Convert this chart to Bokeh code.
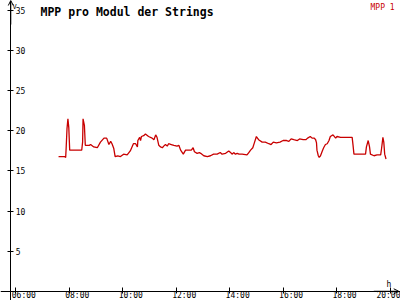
from bokeh.plotting import figure
from bokeh.models import (Range1d, LinearAxis, FixedTicker, Label, Arrow, OpenHead)
from bokeh.embed import file_html
from bokeh.resources import INLINE

# ---- data ----
times = ["07:36", "07:49", "07:52", "07:53", "07:55", "07:57", "07:59", "08:01", "08:28", "08:30",
         "08:31", "08:34", "08:36", "08:45", "08:48", "08:55", "09:03", "09:10", "09:18", "09:24",
         "09:29", "09:33", "09:36", "09:40", "09:43", "09:49", "09:55", "10:02", "10:10", "10:17",
         "10:24", "10:29", "10:33", "10:34", "10:38", "10:40", "10:42", "10:47", "10:51", "10:58",
         "11:06", "11:10", "11:14", "11:17", "11:21", "11:25", "11:29", "11:32", "11:36", "11:40",
         "11:43", "11:49", "11:55", "12:02", "12:06", "12:10", "12:16", "12:21", "12:28", "12:34",
         "12:38", "12:41", "12:47", "12:52", "12:55", "13:02", "13:10", "13:17", "13:24", "13:32",
         "13:39", "13:43", "13:51", "13:58", "14:02", "14:06", "14:09", "14:13", "14:17", "14:21",
         "14:28", "14:39", "14:43", "14:47", "14:52", "14:56", "15:00", "15:05", "15:13", "15:20",
         "15:28", "15:33", "15:38", "15:45", "15:53", "16:00", "16:08", "16:13", "16:18", "16:24",
         "16:32", "16:37", "16:45", "16:51", "16:55", "17:01", "17:05", "17:10", "17:13", "17:15",
         "17:16", "17:19", "17:21", "17:24", "17:28", "17:31", "17:35", "17:39", "17:43", "17:46",
         "17:52", "17:58", "18:01", "18:09", "18:35", "18:37", "18:39", "19:05", "19:07", "19:11",
         "19:14", "19:16", "19:24", "19:31", "19:39", "19:41", "19:44", "19:46", "19:48", "19:51"]
mpp1 = [16.8, 16.8, 16.7, 17.8, 20.3, 21.5, 20.4, 17.6, 17.6, 18.6,
        21.5, 20.7, 18.2, 18.2, 18.3, 18.0, 17.9, 18.6, 19.1, 19.1,
        18.3, 18.7, 18.4, 17.8, 16.8, 16.9, 16.8, 17.1, 17.0, 17.5,
        18.4, 18.4, 18.0, 18.8, 19.2, 18.8, 19.3, 19.4, 19.6, 19.3,
        19.1, 18.9, 19.5, 19.2, 18.2, 18.0, 17.9, 18.1, 18.3, 18.1,
        18.4, 18.3, 18.2, 18.1, 18.2, 17.6, 17.1, 17.6, 17.6, 17.6,
        17.9, 17.4, 17.2, 17.3, 17.2, 16.9, 16.8, 16.9, 17.1, 17.1,
        17.3, 17.1, 17.2, 17.5, 17.3, 17.1, 17.3, 17.1, 17.2, 17.1,
        17.1, 17.0, 17.3, 17.6, 17.9, 18.6, 19.3, 18.9, 18.6, 18.6,
        18.4, 18.3, 18.6, 18.5, 18.6, 18.8, 18.8, 18.7, 19.0, 18.9,
        18.8, 19.0, 18.9, 18.9, 19.1, 19.3, 19.1, 19.1, 18.9, 18.5,
        17.6, 16.9, 16.7, 16.9, 17.5, 17.9, 18.3, 18.4, 18.8, 19.3,
        19.5, 19.1, 19.3, 19.2, 19.2, 18.2, 17.1, 17.1, 18.0, 18.8,
        18.0, 17.1, 16.9, 17.0, 17.0, 17.8, 19.2, 18.6, 17.1, 16.5]

x_tick_labels = ["06:00", "08:00", "10:00", "12:00", "14:00", "16:00", "18:00", "20:00"]
y_ticks = [5, 10, 15, 20, 25, 30, 35]
series_name = "MPP 1"
title_text = "MPP pro Modul der Strings"


def to_min(t):
    h, m = t.split(":")
    return int(h) * 60 + int(m)


xs = [to_min(t) for t in times]
x_ticks = [to_min(t) for t in x_tick_labels]

X0, X1 = 325.7, 1223.5
Y0, Y1 = -1.15, 36.26
YAXIS_AT = 348.8
LABEL_SHIFT = 18

p = figure(width=400, height=300, output_backend="svg", toolbar_location=None,
           x_range=Range1d(X0, X1), y_range=Range1d(Y0, Y1),
           x_axis_type=None, y_axis_type=None, min_border=0,
           outline_line_color=None, background_fill_color="white",
           border_fill_color="white")
p.xgrid.visible = False
p.ygrid.visible = False

FONT = "DejaVu Sans Mono"

yaxis = LinearAxis(fixed_location=YAXIS_AT, ticker=FixedTicker(ticks=y_ticks),
                   major_tick_in=3, major_tick_out=3, major_label_standoff=2,
                   minor_tick_line_color=None, axis_line_color="black",
                   major_tick_line_color="black",
                   major_label_text_font=FONT, major_label_text_font_size="8px",
                   major_label_text_color="black")
p.add_layout(yaxis, "right")

xaxis = LinearAxis(fixed_location=0, ticker=FixedTicker(ticks=x_ticks),
                   major_tick_in=4, major_tick_out=2,
                   minor_tick_line_color=None, axis_line_color="black",
                   major_tick_line_color="black",
                   major_label_text_color=None, major_label_text_font_size="8px")
p.add_layout(xaxis, "below")

lab_ticks = [t + LABEL_SHIFT for t in x_ticks]
xlab = LinearAxis(fixed_location=0, ticker=FixedTicker(ticks=lab_ticks),
                  major_label_overrides={t: s for t, s in zip(lab_ticks, x_tick_labels)},
                  major_tick_in=0, major_tick_out=0, major_label_standoff=0,
                  minor_tick_line_color=None, axis_line_color=None,
                  major_tick_line_color=None,
                  major_label_text_font=FONT, major_label_text_font_size="8px",
                  major_label_text_color="black")
p.add_layout(xlab, "below")

p.line(x=xs, y=mpp1, line_color="#c80000", line_width=1.3)

p.add_layout(Arrow(end=OpenHead(size=5, line_width=1, line_color="black"),
                   x_start=YAXIS_AT, y_start=Y1 - 3, x_end=YAXIS_AT, y_end=Y1,
                   line_color="black", line_width=1))
p.add_layout(Arrow(end=OpenHead(size=5, line_width=1, line_color="black"),
                   x_start=X1 - 60, y_start=0, x_end=X1 - 4, y_end=0,
                   line_color="black", line_width=1))

p.add_layout(Label(x=40, y=289, x_units="screen", y_units="screen", text=title_text,
                   text_font=FONT, text_font_style="bold", text_font_size="11.5px",
                   text_color="black", text_baseline="alphabetic"))
p.add_layout(Label(x=370, y=293, x_units="screen", y_units="screen", text=series_name,
                   text_font=FONT, text_font_size="8px", text_color="#c80000",
                   text_baseline="alphabetic"))
p.add_layout(Label(x=12, y=294, x_units="screen", y_units="screen", text="V",
                   text_font=FONT, text_font_size="7px", text_color="black",
                   text_baseline="alphabetic"))
p.add_layout(Label(x=386, y=16, x_units="screen", y_units="screen", text="h",
                   text_font=FONT, text_font_size="8px", text_color="black",
                   text_baseline="alphabetic"))

open("out.html", "w").write(file_html(p, INLINE))
